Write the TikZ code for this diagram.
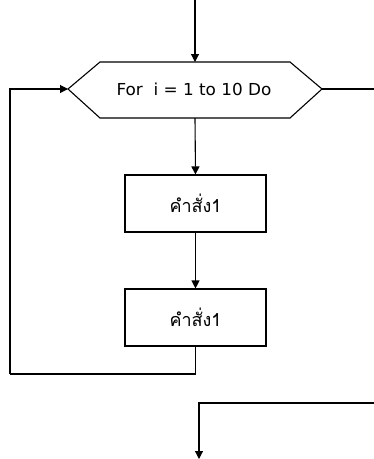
\documentclass[tikz,border=0pt]{standalone}
\usepackage{fontspec}
\setmainfont{DejaVu Sans}
\newfontfamily\thaifont[Script=Thai]{Loma}
\usetikzlibrary{arrows.meta}
\begin{document}
\begin{tikzpicture}[x=1pt,y=-1pt,line width=1.1pt,
  >={Triangle[length=8pt,width=8pt]},
  proc/.style={draw,rectangle,minimum width=141pt,minimum height=57pt,inner sep=0pt,font=\thaifont\fontsize{18}{20}\selectfont},
  lbl/.style={inner sep=0pt,font=\fontsize{16.5}{19}\selectfont}]
\useasboundingbox (0,0) rectangle (374,459);
% hexagon
\coordinate (hl) at (68,89);
\coordinate (hr) at (322,89);
\coordinate (ht) at (195,62);
\coordinate (hb) at (195,118);
\draw (hl) -- (100,62) -- (290,62) -- (hr) -- (290,118) -- (100,118) -- cycle;
\node[lbl] (for) at (194,89) {\scalebox{1.02}[1]{For\ \ i = 1 to 10 Do}};
\node[proc] (b1) at (195.5,203.5) {คำสั่ง1};
\node[proc] (b2) at (195.5,317.5) {คำสั่ง1};
\coordinate (top) at (195,0);
\coordinate (c1) at (10,374);
\coordinate (re) at (374,89);
\coordinate (le) at (374,403);
\coordinate (bot) at (199,459);
\draw[->] (top) -- (ht);
\draw[->] (hb) -- (b1.north);
\draw[->] (b1.south) -- (b2.north);
\draw (b2.south) |- (c1);
\draw[->] (c1) |- (hl);
\draw (hr) -- (re);
\draw[->] (le) -| (bot);
\end{tikzpicture}
\end{document}
